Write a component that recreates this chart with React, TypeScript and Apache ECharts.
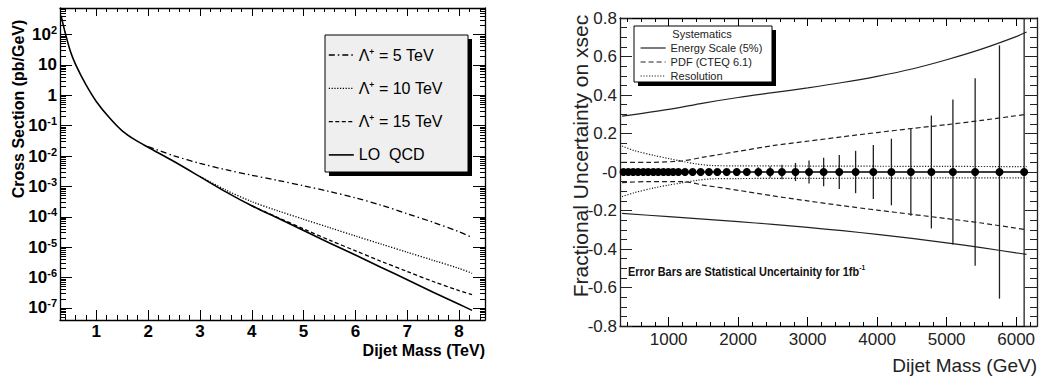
import React, { useEffect, useRef } from "react";
import * as echarts from "echarts";

const FONT = '"Liberation Sans", Arial, Helvetica, sans-serif';

// ---------- Left panel: cross section (pb/GeV) vs dijet mass (TeV) ----------
const qcdMass = [0.32, 0.4, 0.5, 0.6, 0.8, 1.0, 1.25, 1.5, 1.75, 2.0, 2.5, 3.0, 3.5, 4.0, 4.5, 5.0, 5.5, 6.0, 6.5, 7.0, 7.5, 8.0, 8.25];
const qcdXsec = [420, 115, 28.2, 10.5, 2.24, 0.63, 0.186, 0.068, 0.034, 0.0195, 6.6e-3, 2.1e-3, 6.6e-4, 2.3e-4, 9.1e-5, 3.55e-5, 1.38e-5, 5.5e-6, 2.14e-6, 8.5e-7, 3.3e-7, 1.32e-7, 8.3e-8];

const lambda5Mass = [2.0, 2.5, 3.0, 3.5, 4.0, 4.5, 5.0, 5.5, 6.0, 6.5, 7.0, 7.5, 8.0, 8.25];
const lambda5Xsec = [0.0205, 0.0102, 5.75e-3, 3.55e-3, 2.34e-3, 1.58e-3, 1.05e-3, 6.8e-4, 4.2e-4, 2.4e-4, 1.26e-4, 6.6e-5, 3.2e-5, 2.1e-5];

const lambda10Mass = [3.0, 3.5, 4.0, 4.5, 5.0, 5.5, 6.0, 6.5, 7.0, 7.5, 8.0, 8.25];
const lambda10Xsec = [2.14e-3, 7.6e-4, 3.16e-4, 1.58e-4, 8.3e-5, 4.4e-5, 2.34e-5, 1.26e-5, 6.8e-6, 3.7e-6, 2.0e-6, 1.38e-6];

const lambda15Mass = [4.0, 4.5, 5.0, 5.5, 6.0, 6.5, 7.0, 7.5, 8.0, 8.25];
const lambda15Xsec = [2.3e-4, 9.5e-5, 4.0e-5, 1.7e-5, 7.6e-6, 3.4e-6, 1.58e-6, 7.4e-7, 3.7e-7, 2.75e-7];

const leftMassTicks = [1, 2, 3, 4, 5, 6, 7, 8];
const leftXsecTicks = [1e-7, 1e-6, 1e-5, 1e-4, 1e-3, 1e-2, 1e-1, 1, 10, 100];
const leftLegendNames = ["\u039b\u207a = 5 TeV", "\u039b\u207a = 10 TeV", "\u039b\u207a = 15 TeV", "LO  QCD"];

// ---------- Right panel: fractional uncertainty vs dijet mass (GeV) ----------
const massBinsGeV = [350, 420, 490, 560, 635, 705, 780, 850, 925, 995, 1065, 1140, 1235, 1345, 1460, 1580, 1700, 1835, 1980, 2125, 2290, 2460, 2630, 2825, 3020, 3230, 3455, 3690, 3945, 4205, 4485, 4780, 5090, 5410, 5760, 6115];
const statErr = [0.001, 0.001, 0.001, 0.002, 0.002, 0.002, 0.003, 0.003, 0.004, 0.004, 0.005, 0.006, 0.007, 0.008, 0.009, 0.011, 0.013, 0.015, 0.018, 0.021, 0.025, 0.03, 0.038, 0.047, 0.06, 0.074, 0.088, 0.11, 0.14, 0.173, 0.227, 0.293, 0.377, 0.487, 0.658, 1.0];

const energyMass = [330, 1000, 1500, 2000, 2500, 3000, 3500, 4000, 4500, 5000, 5500, 6000, 6150];
const energyUp = [0.29, 0.325, 0.358, 0.387, 0.412, 0.437, 0.465, 0.497, 0.535, 0.583, 0.638, 0.703, 0.727];
const energyDown = [-0.215, -0.232, -0.245, -0.258, -0.272, -0.288, -0.305, -0.324, -0.345, -0.368, -0.393, -0.42, -0.428];

const pdfMass = [330, 700, 1200, 1500, 2000, 2500, 3000, 3500, 4000, 4500, 5000, 5500, 6150];
const pdfUp = [0.05, 0.05, 0.058, 0.077, 0.107, 0.137, 0.16, 0.183, 0.205, 0.226, 0.246, 0.268, 0.3];
const pdfDown = [-0.055, -0.05, -0.05, -0.068, -0.095, -0.124, -0.15, -0.175, -0.198, -0.22, -0.242, -0.265, -0.3];

const resMass = [330, 500, 800, 1000, 1200, 1400, 1600, 2000, 3000, 4000, 5000, 6150];
const resUp = [0.135, 0.112, 0.085, 0.07, 0.055, 0.042, 0.034, 0.032, 0.031, 0.03, 0.029, 0.028];
const resDown = [-0.128, -0.108, -0.082, -0.068, -0.056, -0.044, -0.036, -0.034, -0.033, -0.032, -0.031, -0.031];

const rightMassTicks = [1000, 2000, 3000, 4000, 5000, 6000];
const rightLegendNames = ["Energy Scale (5%)", "PDF (CTEQ 6.1)", "Resolution"];

// ---------- helpers ----------
const pairs = (xs: number[], ys: number[]) => xs.map((x, i) => [x, ys[i]]);

function minorLinear(min: number, max: number, step: number, majors: number[]) {
  const out: number[] = [];
  for (let i = Math.ceil(min / step - 1e-9); i * step <= max + 1e-9; i++) {
    const v = +(i * step).toFixed(6);
    if (!majors.some((m) => Math.abs(m - v) < 1e-9)) out.push(v);
  }
  return out;
}
function minorLog(min: number, max: number) {
  const out: number[] = [];
  for (let e = -9; e <= 3; e++) {
    for (let k = 2; k <= 9; k++) {
      const v = k * Math.pow(10, e);
      if (v >= min && v <= max) out.push(v);
    }
  }
  return out;
}

const LX: [number, number] = [0.3, 8.5];
const LY: [number, number] = [4e-8, 750];
const RX: [number, number] = [300, 6300];

function axis(type: string, gridIndex: number, range: number[], position: string, ticks: number[], len: number, showLine: boolean, label?: any) {
  const a: any = {
    type,
    gridIndex,
    min: range[0],
    max: range[1],
    position,
    axisLine: { show: showLine, onZero: false, lineStyle: { color: "#000", width: 1.3 } },
    axisTick: { show: true, inside: true, length: len, customValues: ticks, lineStyle: { color: "#000", width: 1 } },
    axisLabel: label ? { show: true, customValues: ticks, ...label } : { show: false },
    splitLine: { show: false },
    minorTick: { show: false },
  };
  if (type === "log") a.logBase = 10;
  return a;
}

function buildOption(): any {
  const leftXMinor = minorLinear(LX[0], LX[1], 0.2, leftMassTicks);
  const leftYMinor = minorLog(LY[0], LY[1]);
  const rightXMinor = minorLinear(RX[0], RX[1], 200, rightMassTicks);

  const logLabel = {
    margin: 3,
    formatter: (v: number) => {
      const e = Math.round(Math.log10(v));
      if (e === 0) return "{b|1}";
      if (e === 1) return "{b|10}";
      return `{b|10}{s|${e}}`;
    },
    rich: {
      b: { fontSize: 17, fontWeight: "bold", fontFamily: FONT, color: "#000", lineHeight: 20 },
      s: { fontSize: 11, fontWeight: "bold", fontFamily: FONT, color: "#000", verticalAlign: "top", lineHeight: 20 },
    },
  };

  const rightYAxisBase = (position: string, showLabel: boolean) => ({
    type: "value",
    gridIndex: 1,
    min: -0.8,
    max: 0.8,
    interval: 0.2,
    position,
    axisLine: { show: true, onZero: false, lineStyle: { color: "#222", width: 1.3 } },
    axisTick: { show: true, inside: true, length: 12, lineStyle: { color: "#222", width: 1 } },
    minorTick: { show: true, splitNumber: 4, length: 7, lineStyle: { color: "#222", width: 1 } },
    axisLabel: showLabel
      ? {
          show: true,
          margin: 3,
          fontSize: 17,
          fontFamily: FONT,
          color: "#222",
          formatter: (v: number) => (Math.abs(v) < 1e-9 ? "-0" : v.toFixed(1)),
        }
      : { show: false },
    splitLine: { show: false },
  });

  const lineS = (name: string, data: any[], xi: number, yi: number, type: any, width: number, color = "#000") => ({
    name,
    type: "line",
    xAxisIndex: xi,
    yAxisIndex: yi,
    data,
    symbol: "none",
    showSymbol: false,
    smooth: 0.3,
    lineStyle: { color, width, type },
    itemStyle: { color },
    z: 2,
  });

  return {
    animation: false,
    backgroundColor: "#fff",
    grid: [
      { left: 60, top: 8, width: 425, height: 312 },
      { left: 620, top: 18, width: 417, height: 308 },
    ],
    xAxis: [
      axis("value", 0, LX, "bottom", leftMassTicks, 10, true, {
        margin: 3,
        fontSize: 17,
        fontWeight: "bold",
        fontFamily: FONT,
        color: "#000",
      }),
      axis("value", 0, LX, "bottom", leftXMinor, 5, false),
      axis("value", 0, LX, "top", leftMassTicks, 8, true),
      axis("value", 0, LX, "top", leftXMinor, 4, false),
      axis("value", 1, RX, "bottom", rightMassTicks, 9, true, {
        margin: 5,
        fontSize: 17,
        fontFamily: FONT,
        color: "#222",
        formatter: (v: number) => String(Math.round(v)),
      }),
      axis("value", 1, RX, "bottom", rightXMinor, 4, false),
      axis("value", 1, RX, "top", rightMassTicks, 8, true),
      axis("value", 1, RX, "top", rightXMinor, 4, false),
    ],
    yAxis: [
      axis("log", 0, LY, "left", leftXsecTicks, 12, true, logLabel),
      axis("log", 0, LY, "left", leftYMinor, 6, false),
      axis("log", 0, LY, "right", leftXsecTicks, 12, true),
      axis("log", 0, LY, "right", leftYMinor, 5, false),
      rightYAxisBase("left", true),
      rightYAxisBase("right", false),
    ],
    legend: [
      {
        data: leftLegendNames,
        orient: "vertical",
        left: 328,
        top: 45,
        padding: 0,
        itemWidth: 25,
        itemHeight: 20,
        itemGap: 13.3,
        selectedMode: false,
        textStyle: { fontSize: 16, lineHeight: 20, fontFamily: FONT, color: "#000" },
        itemStyle: { opacity: 0, borderWidth: 0 },
        lineStyle: { width: "inherit" },
        z: 5,
      },
      {
        data: rightLegendNames,
        orient: "vertical",
        left: 640,
        top: 41,
        padding: 0,
        itemWidth: 25,
        itemHeight: 14,
        itemGap: 0,
        selectedMode: false,
        textStyle: { fontSize: 11, lineHeight: 14, fontFamily: FONT, color: "#222" },
        itemStyle: { opacity: 0, borderWidth: 0 },
        lineStyle: { width: "inherit" },
        z: 5,
      },
    ],
    series: [
      lineS(leftLegendNames[0], pairs(lambda5Mass, lambda5Xsec), 0, 0, [6, 3, 1.5, 3], 1.3),
      lineS(leftLegendNames[1], pairs(lambda10Mass, lambda10Xsec), 0, 0, [1.2, 1.6], 1.3),
      lineS(leftLegendNames[2], pairs(lambda15Mass, lambda15Xsec), 0, 0, [4, 2.5], 1.3),
      lineS(leftLegendNames[3], pairs(qcdMass, qcdXsec), 0, 0, "solid", 1.6),

      lineS(rightLegendNames[0], pairs(energyMass, energyUp), 4, 4, "solid", 1.2, "#222"),
      lineS(rightLegendNames[0], pairs(energyMass, energyDown), 4, 4, "solid", 1.2, "#222"),
      lineS(rightLegendNames[1], pairs(pdfMass, pdfUp), 4, 4, [5, 3], 1.2, "#222"),
      lineS(rightLegendNames[1], pairs(pdfMass, pdfDown), 4, 4, [5, 3], 1.2, "#222"),
      lineS(rightLegendNames[2], pairs(resMass, resUp), 4, 4, [1.2, 1.6], 1.2, "#222"),
      lineS(rightLegendNames[2], pairs(resMass, resDown), 4, 4, [1.2, 1.6], 1.2, "#222"),
      {
        name: "Statistical",
        type: "custom",
        xAxisIndex: 4,
        yAxisIndex: 4,
        clip: true,
        data: pairs(massBinsGeV, statErr),
        renderItem: (_p: any, api: any) => {
          const x = api.value(0);
          const e = api.value(1);
          const a = api.coord([x, e]);
          const b = api.coord([x, -e]);
          return {
            type: "line",
            shape: { x1: a[0], y1: a[1], x2: b[0], y2: b[1] },
            style: { stroke: "#222", lineWidth: 1.3 },
          };
        },
        z: 3,
      },
      {
        name: "Points",
        type: "line",
        xAxisIndex: 4,
        yAxisIndex: 4,
        data: massBinsGeV.map((m) => [m, 0]),
        symbol: "circle",
        symbolSize: 8,
        showSymbol: true,
        itemStyle: { color: "#000" },
        lineStyle: { color: "#000", width: 1.5 },
        z: 4,
      },
    ],
    graphic: [
      // left legend frame
      { type: "rect", z: 3, shape: { x: 329, y: 39, width: 143, height: 137 }, style: { fill: "#000" } },
      { type: "rect", z: 3, shape: { x: 325, y: 35, width: 143, height: 137 }, style: { fill: "#efefef", stroke: "#000", lineWidth: 1 } },
      // right legend frame
      { type: "rect", z: 3, shape: { x: 638, y: 30, width: 138, height: 56 }, style: { fill: "#000" } },
      { type: "rect", z: 3, shape: { x: 634, y: 26, width: 138, height: 56 }, style: { fill: "#fff", stroke: "#000", lineWidth: 1 } },
      {
        type: "text",
        z: 6,
        x: 702,
        y: 34,
        style: { text: "Systematics", fontSize: 11, fontFamily: FONT, fill: "#222", align: "center", verticalAlign: "middle" },
      },
      // axis titles
      {
        type: "text",
        z: 6,
        x: 18,
        y: 109,
        rotation: Math.PI / 2,
        style: { text: "Cross Section (pb/GeV)", fontSize: 16, fontWeight: "bold", fontFamily: FONT, fill: "#000", align: "center", verticalAlign: "middle" },
      },
      {
        type: "text",
        z: 6,
        x: 485,
        y: 350,
        style: { text: "Dijet Mass (TeV)", fontSize: 16, fontWeight: "bold", fontFamily: FONT, fill: "#000", align: "right", verticalAlign: "middle" },
      },
      {
        type: "text",
        z: 6,
        x: 580,
        y: 156,
        rotation: Math.PI / 2,
        style: { text: "Fractional Uncertainty on xsec", fontSize: 21, fontFamily: FONT, fill: "#222", align: "center", verticalAlign: "middle" },
      },
      {
        type: "text",
        z: 6,
        x: 1037,
        y: 365,
        style: { text: "Dijet Mass (GeV)", fontSize: 19, fontFamily: FONT, fill: "#222", align: "right", verticalAlign: "middle" },
      },
      {
        type: "text",
        z: 6,
        x: 628,
        y: 272,
        scaleX: 0.84,
        style: {
          text: "{a|Error Bars are Statistical Uncertainity for 1fb}{s|-1}",
          verticalAlign: "middle",
          rich: {
            a: { fontSize: 13, fontWeight: "bold", fontFamily: FONT, fill: "#111", color: "#111", lineHeight: 17 },
            s: { fontSize: 8, fontWeight: "bold", fontFamily: FONT, fill: "#111", color: "#111", verticalAlign: "top", lineHeight: 17 },
          },
        },
      },
    ],
  };
}

export default function App() {
  const ref = useRef<HTMLDivElement>(null);
  useEffect(() => {
    if (!ref.current) return;
    const chart = echarts.init(ref.current, undefined, { renderer: "svg" });
    chart.setOption(buildOption());
    return () => chart.dispose();
  }, []);
  return (
    <div
      ref={ref}
      style={{ position: "fixed", left: 0, top: 0, width: 1041, height: 378, background: "#fff" }}
    />
  );
}
